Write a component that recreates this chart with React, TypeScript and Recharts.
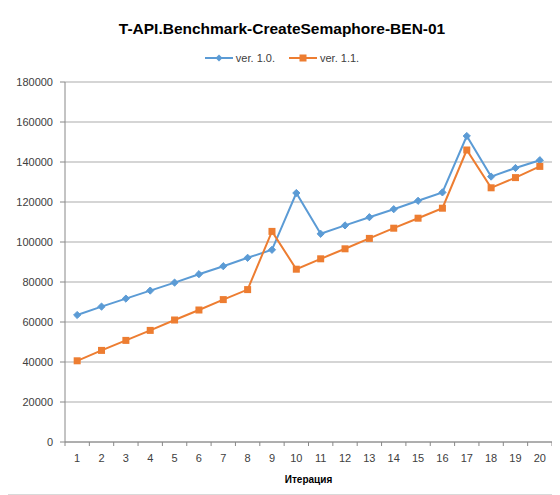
import React from 'react';
import { LineChart, Line, XAxis, YAxis, CartesianGrid, Legend } from 'recharts';

const iterations = [1, 2, 3, 4, 5, 6, 7, 8, 9, 10, 11, 12, 13, 14, 15, 16, 17, 18, 19, 20];
const ver10 = [63500, 67700, 71700, 75700, 79700, 83900, 87900, 92100, 96100, 124500, 104100, 108300, 112400, 116400, 120600, 124800, 153000, 132700, 137000, 140900];
const ver11 = [40600, 45800, 50800, 55800, 61000, 66000, 71200, 76200, 105300, 86400, 91600, 96600, 101800, 106900, 111900, 116900, 146000, 127100, 132200, 137800];
const yTicks = [0, 20000, 40000, 60000, 80000, 100000, 120000, 140000, 160000, 180000];

const BLUE = '#5b9bd5';
const ORANGE = '#ed7d31';
const FONT = '"Liberation Sans", Arial, sans-serif';

const CHART_W = 548;
const CHART_H = 486;
const Y_W = 57;
const RIGHT = 4;
const STEP = (CHART_W - Y_W - RIGHT) / iterations.length;

const data = iterations.map((it, i) => ({ it, v10: ver10[i], v11: ver11[i] }));

const Diamond = (props: any) => {
  const { cx, cy } = props;
  if (cx == null || cy == null) return null;
  const r = 3.6;
  return <polygon points={`${cx},${cy - r} ${cx + r},${cy} ${cx},${cy + r} ${cx - r},${cy}`} fill={BLUE} stroke={BLUE} />;
};

const Square = (props: any) => {
  const { cx, cy } = props;
  if (cx == null || cy == null) return null;
  return <rect x={cx - 3.5} y={cy - 3.5} width={7} height={7} fill={ORANGE} />;
};

const XTick = (props: any) => {
  const { x, y, payload, index } = props;
  const left = x - STEP / 2;
  return (
    <g>
      <line x1={left} y1={y - 8} x2={left} y2={y - 4} stroke="#888" />
      {index === iterations.length - 1 && <line x1={x + STEP / 2} y1={y - 8} x2={x + STEP / 2} y2={y - 4} stroke="#888" />}
      <text x={x} y={y + 12} textAnchor="middle" fontFamily={FONT} fontSize={11} fill="#404040">
        {payload.value}
      </text>
    </g>
  );
};

const LegendBox = () => (
  <div style={{ display: 'flex', justifyContent: 'center', fontFamily: FONT, fontSize: 11, color: '#404040' }}>
    <span style={{ display: 'flex', alignItems: 'center', marginRight: 14 }}>
      <svg width={28} height={10}>
        <line x1={0} y1={5} x2={28} y2={5} stroke={BLUE} strokeWidth={2} />
        <polygon points="14,1.5 17.5,5 14,8.5 10.5,5" fill={BLUE} />
      </svg>
      <span style={{ marginLeft: 3 }}>ver. 1.0.</span>
    </span>
    <span style={{ display: 'flex', alignItems: 'center' }}>
      <svg width={28} height={10}>
        <line x1={0} y1={5} x2={28} y2={5} stroke={ORANGE} strokeWidth={2} />
        <rect x={10.5} y={1.5} width={7} height={7} fill={ORANGE} />
      </svg>
      <span style={{ marginLeft: 3 }}>ver. 1.1.</span>
    </span>
  </div>
);

const App = () => {
  return (
    <div style={{ position: 'relative', width: CHART_W, height: CHART_H, border: '1px solid #d9d9d9', marginTop: -1, marginLeft: -1, background: '#fff' }}>
      <div style={{ position: 'absolute', top: 12, left: 0, width: '100%', textAlign: 'center', fontFamily: FONT, fontWeight: 'bold', fontSize: 15.5, color: '#000' }}>
        T-API.Benchmark-CreateSemaphore-BEN-01
      </div>
      <LineChart width={CHART_W} height={CHART_H} data={data} margin={{ top: 74, right: RIGHT, left: 0, bottom: 0 }}>
        <CartesianGrid vertical={false} stroke="#ababab" />
        <XAxis
          dataKey="it"
          scale="band"
          interval={0}
          tick={<XTick />}
          tickLine={false}
          axisLine={{ stroke: '#888' }}
          height={52}
          label={{ value: 'Итерация', position: 'insideBottom', offset: 11, style: { fontFamily: FONT, fontSize: 10, fontWeight: 'bold', fill: '#000' } }}
        />
        <YAxis
          domain={[0, 180000]}
          ticks={yTicks}
          interval={0}
          width={Y_W}
          tick={{ fontFamily: FONT, fontSize: 11, fill: '#404040' }}
          tickLine={{ stroke: '#888' }}
          tickSize={5}
          tickMargin={7}
          axisLine={{ stroke: '#888' }}
        />
        <Legend
          layout="horizontal"
          verticalAlign="middle"
          align="center"
          content={<LegendBox />}
          wrapperStyle={{ top: 44, left: 0, width: CHART_W }}
        />
        <Line dataKey="v10" name="ver. 1.0." stroke={BLUE} strokeWidth={2} dot={<Diamond />} activeDot={false} isAnimationActive={false} />
        <Line dataKey="v11" name="ver. 1.1." stroke={ORANGE} strokeWidth={2} dot={<Square />} activeDot={false} isAnimationActive={false} />
      </LineChart>
    </div>
  );
};

export default App;
